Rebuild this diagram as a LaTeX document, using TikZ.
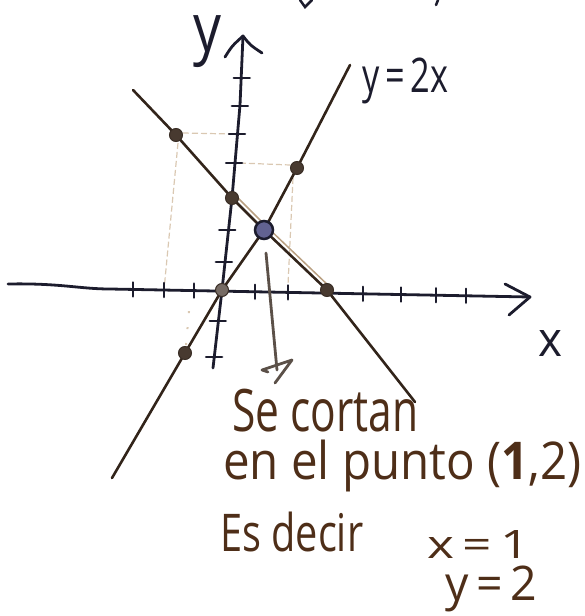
\documentclass[tikz,border=0pt]{standalone}
\usepackage{fontspec}
\setmainfont{Open Sans}
\usepackage{graphicx}
\definecolor{axiscol}{RGB}{28,28,45}
\definecolor{linecol}{RGB}{50,36,26}
\definecolor{dotcol}{RGB}{72,58,48}
\definecolor{ptcol}{RGB}{98,98,145}
\definecolor{guidecol}{RGB}{218,200,178}
\definecolor{textcol}{RGB}{78,46,24}
\definecolor{doublecol}{RGB}{185,160,130}
\newcommand{\hwtext}[3]{\resizebox*{#1pt}{#2pt}{#3}}
\tikzset{
  axisline/.style={draw=axiscol, line width=2.8pt, line cap=round, line join=round},
  tickline/.style={draw=axiscol, line width=2.5pt, line cap=round},
  graphline/.style={draw=linecol, line width=2.6pt, line cap=round, line join=round},
  doubleline/.style={draw=doublecol, line width=1.5pt, line cap=round},
  guideline/.style={draw=guidecol, line width=1.2pt, dash pattern=on 6pt off 3pt},
  dotnode/.style={circle, fill=dotcol, draw=dotcol!80!black, line width=1pt, minimum size=13pt, inner sep=0pt},
  ptnode/.style={circle, fill=ptcol, draw=axiscol, line width=2.5pt, minimum size=18pt, inner sep=0pt},
  hwlabel/.style={inner sep=0pt, text=textcol},
  axlabel/.style={inner sep=0pt, text=axiscol},
  pointer/.style={draw=linecol!80!white, line width=2.8pt, line cap=round, line join=round}
}
\begin{document}
\begin{tikzpicture}[x=1pt,y=-1pt]
\useasboundingbox (0,0) rectangle (584,616);
% points
\coordinate (A) at (176,135);
\coordinate (B) at (232,198);
\coordinate (P) at (264,230);
\coordinate (C) at (327,290);
\coordinate (D) at (297,168);
\coordinate (O) at (222,290);
\coordinate (E) at (185,353);
% line ends and axis ends
\coordinate (dtop) at (133,90);
\coordinate (dbot) at (415,402);
\coordinate (ltop) at (350,65);
\coordinate (lbot) at (112,478);
\coordinate (ybot) at (213,368);
\coordinate (yup) at (240,105);
\coordinate (ytip) at (243,36);
\coordinate (xleft) at (8,284);
\coordinate (xmid) at (110,289);
\coordinate (xtip) at (530,297);
% guides
\draw[guideline] (183,133) -- (232,134);
\draw[guideline] (178,143) -- (164,290);
\draw[guideline] (240,163) -- (290,165);
\draw[guideline] (293,178) -- (288,285);
\draw[draw=guidecol, line width=2pt, dash pattern=on 2pt off 14pt] (186,345) -- (190,300);
% axes
\draw[axisline] (xleft) .. controls (60,283) and (80,289) .. (xmid) -- (xtip);
\draw[axisline] (505,284) -- (xtip) -- (509,315);
\draw[axisline] (ybot) -- (O) -- (B) -- (yup) -- (ytip);
\draw[axisline] (225,57) .. controls (232,46) .. (ytip) .. controls (250,45) .. (262,53);
% ticks
\foreach \tx in {133,164,194,255,288,363,401,436,466}
  \draw[tickline] (\tx,{289+(\tx-110)*0.019-7}) -- ++(0,14);
\foreach \ty/\tx in {78/241.8,106/239.9,134/237,163/234.1,230/227.2,262/223.9,321/217.8,357/214.1}
  \draw[tickline] (\tx-8,\ty) -- (\tx+8,\ty);
% lines
\draw[doubleline] ([shift={(3.5,-2.5)}]B) -- ([shift={(3.5,-2.5)}]P) -- ([shift={(3.5,-2.5)}]C);
\draw[graphline] (dtop) -- (A) -- (B) -- (P) -- (C) -- (dbot);
\draw[graphline] (lbot) -- (E) -- (O) -- (P) -- (D) -- (ltop);
% dots
\node[dotnode] (dA) at (A) {};
\node[dotnode] (dB) at (B) {};
\node[dotnode] (dC) at (C) {};
\node[dotnode] (dD) at (D) {};
\node[dotnode, fill=dotcol!75!white] (dO) at (O) {};
\node[dotnode] (dE) at (E) {};
\node[ptnode] (dP) at (P) {};
% pointer arrow
\coordinate (arrtail) at (266,253);
\coordinate (arrend) at (277,370);
\draw[pointer] (arrtail) -- (arrend);
\draw[pointer] (268,372) -- (262,370) -- (292,360) -- (275,383);
% small strokes cut at the top edge
\draw[draw=axiscol, line width=2.5pt, line cap=round] (300,0) -- (305,7) -- (312,0);
\draw[draw=axiscol, line width=2.5pt, line cap=round] (438,0) -- (436,5);
% labels
\node[axlabel, anchor=north west] (ylab) at (193,15) {\hwtext{28}{52}{y}};
\node[axlabel, anchor=north west] (lablin) at (362,58) {\hwtext{86}{46}{y\,=\,2x}};
\node[axlabel, anchor=north west] (xlab) at (538,330) {\hwtext{24}{26}{x}};
\node[hwlabel, anchor=north west] (t1) at (232,389) {\hwtext{186}{43}{Se cortan}};
\node[hwlabel, anchor=north west] (t2) at (223,440) {\hwtext{358}{52}{en el punto (\textbf{1},2)}};
\node[hwlabel, anchor=north west] (t3) at (220,512) {\hwtext{143}{40}{Es decir}};
\node[hwlabel, anchor=north west] (t4) at (427,530) {\hwtext{103}{28}{x\,=\,1}};
\node[hwlabel, anchor=north west] (t5) at (445,566) {\hwtext{92}{46}{y\,=\,2}};
\end{tikzpicture}
\end{document}
